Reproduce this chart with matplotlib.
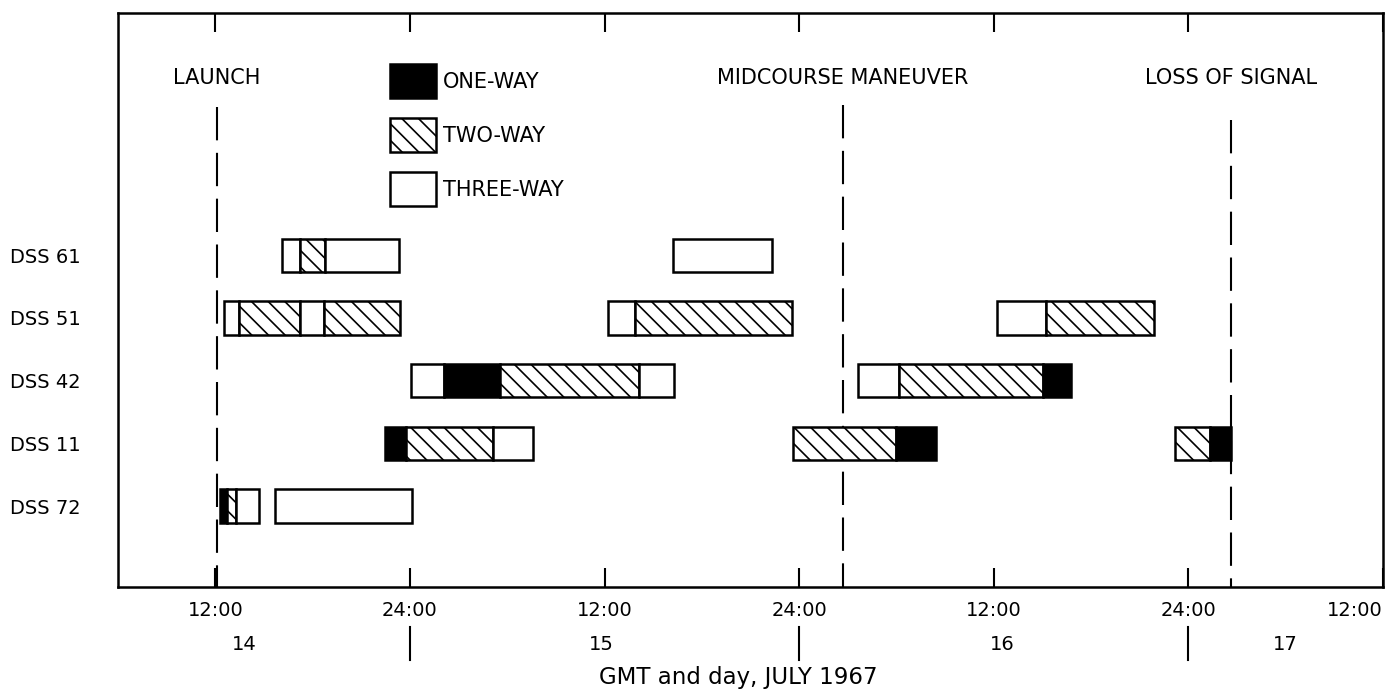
import matplotlib
matplotlib.use('Agg')
import matplotlib.pyplot as plt
from matplotlib.patches import Patch
import matplotlib.transforms as mtransforms

plt.rcParams['font.family'] = ['DejaVu Sans']
plt.rcParams['hatch.linewidth'] = 1.2

# ---------------- data ----------------
stations = ['DSS 61', 'DSS 51', 'DSS 42', 'DSS 11', 'DSS 72']
modes = ['ONE-WAY', 'TWO-WAY', 'THREE-WAY']

# tracking segments: hours GMT counted from 00:00 on July 14, 1967
seg_station = ['DSS 61', 'DSS 61', 'DSS 61', 'DSS 61',
               'DSS 51', 'DSS 51', 'DSS 51', 'DSS 51', 'DSS 51', 'DSS 51', 'DSS 51', 'DSS 51',
               'DSS 42', 'DSS 42', 'DSS 42', 'DSS 42', 'DSS 42', 'DSS 42', 'DSS 42',
               'DSS 11', 'DSS 11', 'DSS 11', 'DSS 11', 'DSS 11', 'DSS 11', 'DSS 11',
               'DSS 72', 'DSS 72', 'DSS 72', 'DSS 72']
seg_start = [16.1, 17.25, 18.75, 40.2,
             12.55, 13.45, 17.2, 18.7, 36.2, 37.9, 60.2, 63.2,
             24.05, 26.1, 29.55, 38.1, 51.6, 54.15, 63.05,
             22.45, 23.75, 29.15, 47.6, 54.0, 71.2, 73.35,
             12.3, 12.7, 13.3, 15.7]
seg_end = [17.25, 18.75, 23.3, 46.3,
           13.45, 17.2, 18.7, 23.4, 37.9, 47.55, 63.2, 69.9,
           26.1, 29.55, 38.1, 40.3, 54.15, 63.05, 64.75,
           23.75, 29.15, 31.6, 54.0, 56.45, 73.35, 74.6,
           12.7, 13.3, 14.7, 24.1]
seg_mode = ['THREE-WAY', 'TWO-WAY', 'THREE-WAY', 'THREE-WAY',
            'THREE-WAY', 'TWO-WAY', 'THREE-WAY', 'TWO-WAY', 'THREE-WAY', 'TWO-WAY', 'THREE-WAY', 'TWO-WAY',
            'THREE-WAY', 'ONE-WAY', 'TWO-WAY', 'THREE-WAY', 'THREE-WAY', 'TWO-WAY', 'ONE-WAY',
            'ONE-WAY', 'TWO-WAY', 'THREE-WAY', 'TWO-WAY', 'ONE-WAY', 'TWO-WAY', 'ONE-WAY',
            'ONE-WAY', 'TWO-WAY', 'THREE-WAY', 'THREE-WAY']

events = ['LAUNCH', 'MIDCOURSE MANEUVER', 'LOSS OF SIGNAL']
event_times = [12.1, 50.7, 74.65]

tick_hours = [12, 24, 36, 48, 60, 72, 84]
tick_labels = ['12:00', '24:00', '12:00', '24:00', '12:00', '24:00', '12:00']
day_labels = ['14', '15', '16', '17']
day_label_hours = [13.8, 35.8, 60.5, 78.0]
day_break_hours = [24, 48, 72]

# ---------------- style ----------------
mode_face = {'ONE-WAY': 'black', 'TWO-WAY': 'white', 'THREE-WAY': 'white'}
mode_hatch = {'ONE-WAY': None, 'TWO-WAY': '\\\\', 'THREE-WAY': None}
event_line_top = [-2.36, -2.4, -2.15]
FS = 15
TFS = 14

fig = plt.figure(figsize=(13.9, 6.94), dpi=100)
ax = fig.add_axes([118 / 1390, (694 - 587) / 694, 1265 / 1390, 574 / 694])

row = {s: i for i, s in enumerate(stations)}
for st, a, b, m in zip(seg_station, seg_start, seg_end, seg_mode):
    ax.barh(row[st], b - a, left=a, height=0.53, color=mode_face[m],
            hatch=mode_hatch[m], edgecolor='black', linewidth=1.8, zorder=3)

ax.set_xlim(6, 84)
ax.set_ylim(5.29, -3.86)

# event lines and labels
for ev, t, top in zip(events, event_times, event_line_top):
    ax.plot([t, t], [top, 5.29], color='black', lw=1.5,
            dashes=(16, 6), zorder=2, solid_capstyle='butt')
    ax.text(t, -2.82, ev, ha='center', va='center', fontsize=FS)

# axes styling
for sp in ax.spines.values():
    sp.set_linewidth(1.8)
ax.set_xticks(tick_hours)
ax.set_xticklabels(tick_labels, fontsize=TFS)
ax.get_xticklabels()[-1].set_horizontalalignment('right')
ax.tick_params(axis='x', direction='in', length=13.5, width=1.5, top=True, pad=10)
ax.set_yticks(range(len(stations)))
ax.set_yticklabels(stations, fontsize=TFS)
ax.tick_params(axis='y', length=0, pad=27)

trans = mtransforms.blended_transform_factory(ax.transData, ax.transAxes)
for lab, h in zip(day_labels, day_label_hours):
    ax.text(h, -0.1, lab, transform=trans, ha='center', va='center', fontsize=TFS)
for h in day_break_hours:
    ax.plot([h, h], [-0.07, -0.127], transform=trans, color='black', lw=1.5, clip_on=False)
ax.text(0.49, -0.158, 'GMT and day, JULY 1967', transform=ax.transAxes,
        ha='center', va='center', fontsize=16.5)

# legend
handles = [Patch(facecolor=mode_face[m], edgecolor='black', hatch=mode_hatch[m],
                 linewidth=1.8, label=m) for m in modes]
ax.legend(handles=handles, loc='upper left', bbox_to_anchor=(0.215, 0.911),
          frameon=False, fontsize=FS, handlelength=2.2, handleheight=2.13,
          handletextpad=0.35, labelspacing=0.96, borderpad=0, borderaxespad=0)

fig.savefig('out.png', dpi=100)
